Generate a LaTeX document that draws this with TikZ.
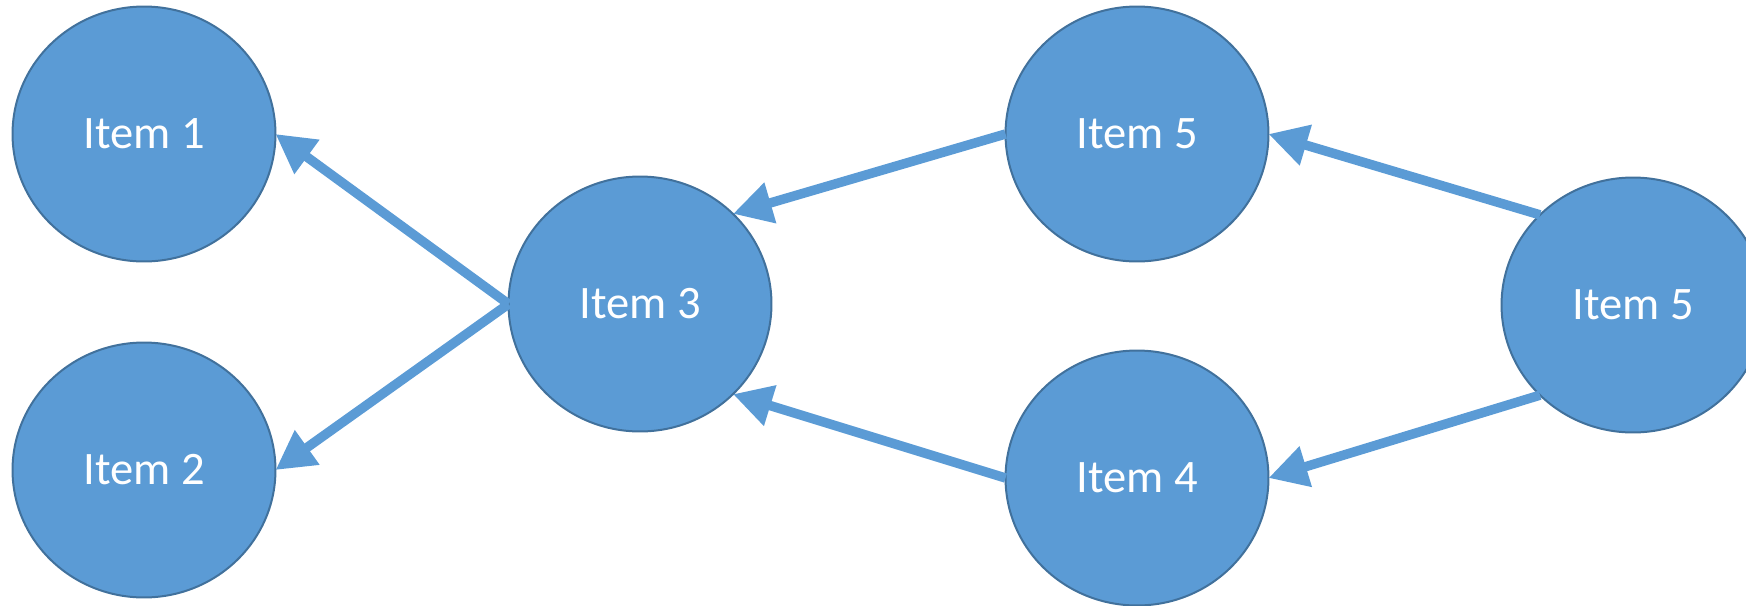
\documentclass[tikz,border=0pt]{standalone}
\usepackage{fontspec}
\setmainfont{Carlito}
\usetikzlibrary{shapes.geometric, arrows.meta, positioning}
\definecolor{itemblue}{HTML}{5B9BD5}
\definecolor{itemedge}{HTML}{41719C}
\tikzstyle{item} = [ellipse, minimum width=5.26cm, minimum height=5.1cm,
	inner sep=0pt, outer sep=0pt, draw=itemedge, line width=0.04cm,
	fill=itemblue, text=white, font=\fontsize{26.5}{30}\selectfont]
\tikzstyle{arrow} = [-{Triangle[length=0.78cm, width=0.8cm]}, draw=itemblue, line width=0.19cm]

\begin{document}
\begin{tikzpicture}[x=0.02cm, y=-0.02cm]
	% frame of the picture
	\path[use as bounding box, clip] (0,0) rectangle (1746,605);

	% set up nodes
	\node (item1) [item] at (144,134) {Item 1};
	\node (item2) [item] at (144,470) {Item 2};
	\node (item3) [item] at (640,304) {Item 3};
	\node (item5a) [item] at (1137,134) {Item 5};
	\node (item4) [item] at (1137,478) {Item 4};
	\node (item5b) [item] at (1633,305) {Item 5};

	% set up arrows between nodes
	\draw [arrow] (item3.west) -- (item1.east);
	\draw [arrow] (item3.west) -- (item2.east);
	\draw [arrow] (item5a.west) -- (item3.north east);
	\draw [arrow] (item4.west) -- (item3.south east);
	\draw [arrow] (item5b.north west) -- (item5a.east);
	\draw [arrow] (item5b.south west) -- (item4.east);

\end{tikzpicture}
\end{document}
